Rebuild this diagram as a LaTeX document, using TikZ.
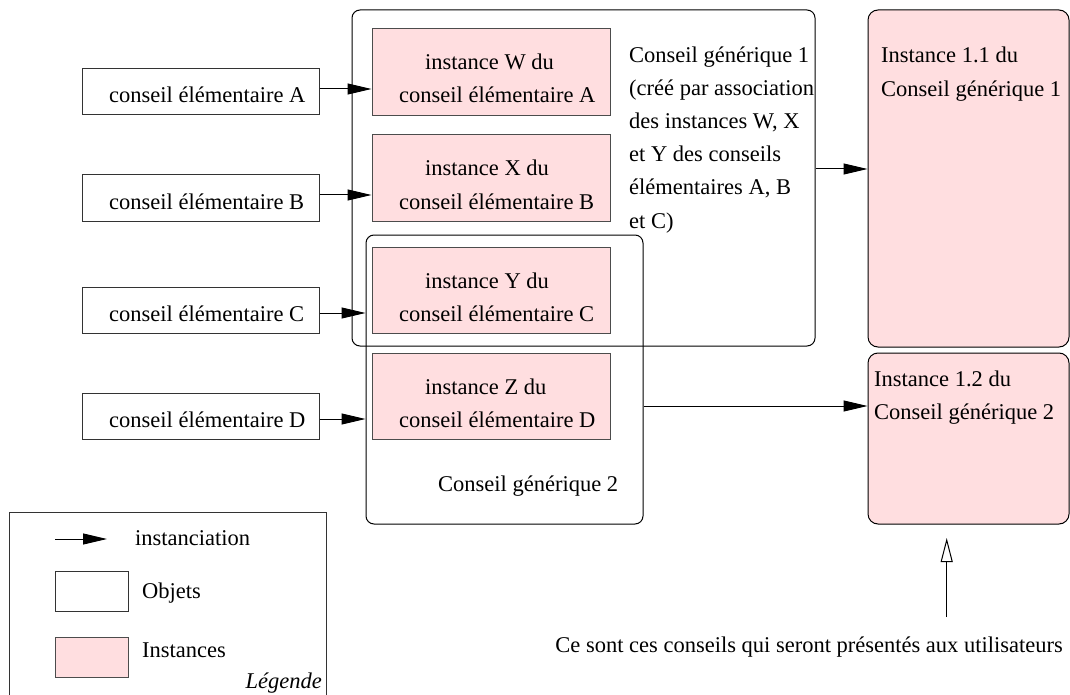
\documentclass[tikz,border=0pt]{standalone}
\usepackage{fontspec}
\setmainfont{Liberation Serif}
\usetikzlibrary{arrows.meta}
\definecolor{pinkfill}{RGB}{255,222,224}
\begin{document}
\begin{tikzpicture}[x=1pt,y=-1pt,
  font=\fontsize{22.5}{26}\selectfont,
  objbox/.style={draw=black!80,line width=1pt,fill=white,inner sep=0pt,minimum width=237pt,minimum height=46pt},
  instbox/.style={draw=black!70,line width=1pt,fill=pinkfill,inner sep=0pt,minimum width=238pt,minimum height=86pt},
  grpbox/.style={draw=black,line width=1pt,rounded corners=8pt,inner sep=0pt},
  resbox/.style={draw=black,line width=1pt,rounded corners=10pt,fill=pinkfill,inner sep=0pt,minimum width=201pt},
  lbl/.style={anchor=base west,inner sep=0pt},
  arr/.style={line width=1pt,-{Triangle[length=24pt,width=11pt]}},
  openarr/.style={line width=1pt,-{Triangle[open,length=24pt,width=12pt]}},
]
\useasboundingbox (0,0) rectangle (1070,695);

% groups
\node[grpbox,minimum width=463pt,minimum height=336pt] (g1) at (583.5,178) {};
\node[grpbox,minimum width=277pt,minimum height=289pt] (g2) at (504.5,379.5) {};

% elementary boxes
\node[objbox] (ceA) at (200.5,92) {};
\node[objbox] (ceB) at (200.5,198) {};
\node[objbox] (ceC) at (200.5,310.5) {};
\node[objbox] (ceD) at (200.5,416) {};
\node[lbl] (tA) at (109,103) {conseil élémentaire A};
\node[lbl] (tB) at (109,209) {conseil élémentaire B};
\node[lbl] (tC) at (109,321.5) {conseil élémentaire C};
\node[lbl] (tD) at (109,427) {conseil élémentaire D};

% instances
\node[instbox,minimum height=87pt] (iW) at (491,72.5) {};
\node[instbox] (iX) at (491,178) {};
\node[instbox] (iY) at (491,290) {};
\node[instbox] (iZ) at (491,396) {};
\node[lbl] (tW1) at (425,70) {instance W du};
\node[lbl] (tW2) at (399,103) {conseil élémentaire A};
\node[lbl] (tX1) at (425,176) {instance X du};
\node[lbl] (tX2) at (399,209) {conseil élémentaire B};
\node[lbl] (tY1) at (425,288) {instance Y du};
\node[lbl] (tY2) at (399,321) {conseil élémentaire C};
\node[lbl] (tZ1) at (425,394) {instance Z du};
\node[lbl] (tZ2) at (399,427) {conseil élémentaire D};

% group labels
\node[lbl] (g1a) at (629,63) {Conseil générique 1};
\node[lbl] (g1b) at (629,96) {(créé par association};
\node[lbl] (g1c) at (629,129) {des instances W, X};
\node[lbl] (g1d) at (629,162) {et Y des conseils};
\node[lbl] (g1e) at (629,195) {élémentaires A, B};
\node[lbl] (g1f) at (629,228) {et C)};
\node[lbl] (g2a) at (438,491.5) {Conseil générique 2};

% results
\node[resbox,minimum height=337pt] (r1) at (968.5,178.5) {};
\node[resbox,minimum height=171pt] (r2) at (968.5,438.5) {};
\node[lbl] (r1a) at (881,63) {Instance 1.1 du};
\node[lbl] (r1b) at (881,96.5) {Conseil générique 1};
\node[lbl] (r2a) at (874,386) {Instance 1.2 du};
\node[lbl] (r2b) at (874,419) {Conseil générique 2};

% arrows
\coordinate (yA) at (0,89);
\coordinate (yB) at (0,195);
\coordinate (yC) at (0,313);
\coordinate (yD) at (0,419);
\coordinate (y1) at (0,169);
\coordinate (y2) at (0,406);
\draw[arr] (ceA.east |- yA) -- (iW.west |- yA);
\draw[arr] (ceB.east |- yB) -- (iX.west |- yB);
\draw[arr] (ceC.east |- yC) -- (g2.west |- yC);
\draw[arr] (ceD.east |- yD) -- (g2.west |- yD);
\draw[arr] (g1.east |- y1) -- (r1.west |- y1);
\draw[arr] (g2.east |- y2) -- (r2.west |- y2);

% user note
\coordinate (ubot) at (946.7,617);
\coordinate (utop) at (946.7,538);
\draw[openarr] (ubot) -- (utop);
\node[anchor=base east,inner sep=0pt] (note) at (1063,652) {Ce sont ces conseils qui seront présentés aux utilisateurs};

% legend (its bottom edge lies below the picture)
\node[draw=black!80,line width=1pt,inner sep=0pt,minimum width=317pt,minimum height=196pt] (leg) at (167.5,610) {};
\coordinate (la) at (55,539);
\coordinate (lb) at (107,539);
\draw[arr] (la) -- (lb);
\node[lbl] (lt1) at (135,545) {instanciation};
\node[draw=black!80,line width=1pt,fill=white,inner sep=0pt,minimum width=73pt,minimum height=40pt] (lobj) at (91.5,591) {};
\node[lbl] (lt2) at (142,598.5) {Objets};
\node[draw=black!70,line width=1pt,fill=pinkfill,inner sep=0pt,minimum width=73pt,minimum height=40pt] (linst) at (91.5,657) {};
\node[lbl] (lt3) at (142,657) {Instances};
\node[anchor=base east,inner sep=0pt,font=\fontsize{22.5}{26}\selectfont\itshape] (lt4) at (322,688.5) {Légende};
\end{tikzpicture}
\end{document}
